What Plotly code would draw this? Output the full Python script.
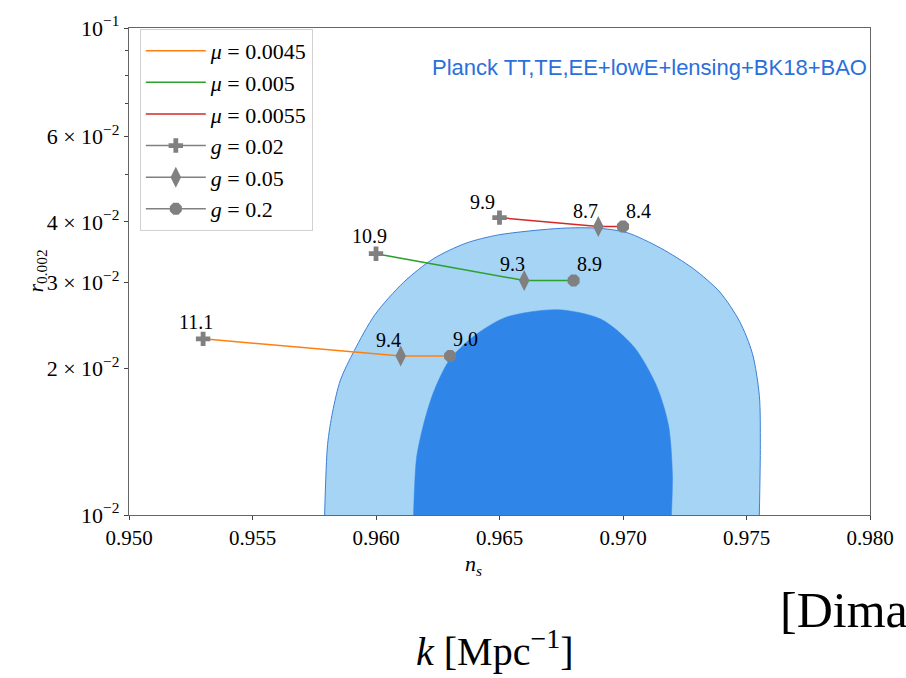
import math
import plotly.graph_objects as go

# --- axis ticks -------------------------------------------------------------
ns_ticks = [0.950, 0.955, 0.960, 0.965, 0.970, 0.975, 0.980]
ns_tick_text = ["0.950", "0.955", "0.960", "0.965", "0.970", "0.975", "0.980"]
r_ticks = [0.01, 0.02, 0.03, 0.04, 0.06, 0.1]
r_tick_text = ["10<sup>−2</sup>", "2 × 10<sup>−2</sup>", "3 × 10<sup>−2</sup>",
               "4 × 10<sup>−2</sup>", "6 × 10<sup>−2</sup>", "10<sup>−1</sup>"]
r_minor_ticks = [0.05, 0.07, 0.08, 0.09]

# --- Planck TT,TE,EE+lowE+lensing+BK18+BAO contours -------------------------
# 95% CL boundary
outer_ns = [0.95792, 0.95804, 0.95824, 0.95856, 0.95912, 0.95996, 0.96112,
            0.96232, 0.96364, 0.96496, 0.96752, 0.96900, 0.97016, 0.97152,
            0.97284, 0.97392, 0.97472, 0.97524, 0.97552, 0.97556, 0.97552]
outer_r = [0.0100, 0.01395, 0.01626, 0.01893, 0.02175, 0.02580, 0.03006,
           0.03358, 0.03615, 0.03760, 0.03880, 0.03880, 0.03800, 0.03533,
           0.03207, 0.02870, 0.02498, 0.02145, 0.01758, 0.01395, 0.0100]
# 68% CL boundary
inner_ns = [0.96152, 0.96164, 0.96192, 0.96232, 0.96296, 0.96392, 0.96524,
            0.96736, 0.96912, 0.97044, 0.97136, 0.97184, 0.97200, 0.97196]
inner_r = [0.0100, 0.01307, 0.01530, 0.01782, 0.02076, 0.02320, 0.02545,
           0.02640, 0.02522, 0.02215, 0.01841, 0.01530, 0.01214, 0.0100]

# --- model predictions: one line per mu, one point per g ----------------------
mu_names = ["<i>μ</i> = 0.0045", "<i>μ</i> = 0.005", "<i>μ</i> = 0.0055"]
mu_colors = ["#ff7f0e", "#2ca02c", "#d62728"]
g_names = ["<i>g</i> = 0.02", "<i>g</i> = 0.05", "<i>g</i> = 0.2"]
g_symbols = ["cross", "diamond-tall", "octagon"]
g_sizes = [12, 15, 13]

ns_pred = [[0.953, 0.961, 0.963],
           [0.960, 0.966, 0.968],
           [0.965, 0.969, 0.970]]
r_pred = [[0.0230, 0.0212, 0.0212],
          [0.0344, 0.0303, 0.0303],
          [0.0408, 0.0391, 0.0391]]
point_text = [["11.1", "9.4", "9.0"],
              ["10.9", "9.3", "8.9"],
              ["9.9", "8.7", "8.4"]]
# label placement relative to each point, in pixels
label_dx = [[-7, -12, 15], [-7, -12, 16], [-17, -13, 15]]
label_dy = [[17, 16, 17], [18, 17, 17], [16, 16, 16]]

SERIF = "Liberation Serif"
GREY = "#808080"

fig = go.Figure()

fig.add_trace(go.Scatter(
    x=outer_ns, y=outer_r, mode="lines",
    line=dict(color="#3d7fd6", width=1.0, shape="spline", smoothing=0.8),
    fill="toself", fillcolor="#a5d4f5", showlegend=False, hoverinfo="skip"))
fig.add_trace(go.Scatter(
    x=inner_ns, y=inner_r, mode="lines",
    line=dict(color="#2f86e8", width=0.5, shape="spline", smoothing=0.8),
    fill="toself", fillcolor="#2f86e8", showlegend=False, hoverinfo="skip"))

for i in range(3):
    fig.add_trace(go.Scatter(
        x=ns_pred[i], y=r_pred[i], mode="lines", name=mu_names[i],
        line=dict(color=mu_colors[i], width=1.5), legendgroup=f"mu{i}"))

for j in range(3):
    fig.add_trace(go.Scatter(
        x=[ns_pred[i][j] for i in range(3)], y=[r_pred[i][j] for i in range(3)],
        mode="markers", showlegend=False,
        marker=dict(symbol=g_symbols[j], size=g_sizes[j], color=GREY, line=dict(width=0))))

for j in range(3):
    fig.add_trace(go.Scatter(
        x=[None], y=[None], mode="lines+markers", name=g_names[j], legendgroup=f"g{j}",
        line=dict(color=GREY, width=1.5),
        marker=dict(symbol=g_symbols[j], size=g_sizes[j], color=GREY, line=dict(width=0))))

annotations = []
for i in range(3):
    for j in range(3):
        annotations.append(dict(
            x=ns_pred[i][j], y=math.log10(r_pred[i][j]), xref="x", yref="y",
            text=point_text[i][j], showarrow=False, xshift=label_dx[i][j], yshift=label_dy[i][j],
            font=dict(family=SERIF, size=20, color="black")))

annotations += [
    dict(x=0.998, y=0.918, xref="paper", yref="paper", xanchor="right", yanchor="middle",
         text="Planck TT,TE,EE+lowE+lensing+BK18+BAO", showarrow=False,
         font=dict(family="Liberation Sans", size=22, color="#2a6fdb")),
    dict(x=-0.147, y=0.5, xref="paper", yref="paper", textangle=-90,
         text="<i>r</i><sub>0.002</sub>", showarrow=False,
         font=dict(family=SERIF, size=22, color="black")),
    dict(x=0.465, y=-0.135, xref="paper", yref="paper",
         text="<i>n<sub>s</sub></i>", showarrow=False,
         font=dict(family=SERIF, size=22, color="black")),
    dict(x=0.494, y=-0.275, xref="paper", yref="paper", xanchor="center", yanchor="middle",
         text="<i>k</i> [Mpc<sup>−1</sup>]", showarrow=False,
         font=dict(family=SERIF, size=40, color="black")),
    dict(x=0.876, y=-0.195, xref="paper", yref="paper", xanchor="left", yanchor="middle",
         text="[Dimastrogiovanni", showarrow=False,
         font=dict(family=SERIF, size=50, color="black")),
]

fig.update_layout(
    width=906, height=678,
    margin=dict(l=129, r=26, t=17, b=163),
    paper_bgcolor="white", plot_bgcolor="white",
    showlegend=True,
    legend=dict(x=0.0146, y=0.998, xanchor="left", yanchor="top",
                bgcolor="rgba(255,255,255,0.85)", bordercolor="#d0d0d0", borderwidth=1,
                font=dict(family=SERIF, size=22, color="black"),
                tracegroupgap=0, itemsizing="trace", itemwidth=60),
    annotations=annotations,
    xaxis=dict(range=[0.950, 0.980], tickvals=ns_ticks, ticktext=ns_tick_text,
               ticks="outside", ticklen=4, tickcolor="#444", showgrid=False, zeroline=False,
               showline=True, mirror=True, linecolor="#666", linewidth=1.2,
               tickfont=dict(family=SERIF, size=21, color="black")),
    yaxis=dict(type="log", range=[-2, -1], tickvals=r_ticks, ticktext=r_tick_text,
               ticks="outside", ticklen=4, tickcolor="#444", showgrid=False, zeroline=False,
               showline=True, mirror=True, linecolor="#666", linewidth=1.2,
               tickfont=dict(family=SERIF, size=22, color="black"),
               minor=dict(tickvals=r_minor_ticks, ticks="outside", ticklen=2.5,
                          tickcolor="#444", showgrid=False)),
)

fig.write_html("out.html")
